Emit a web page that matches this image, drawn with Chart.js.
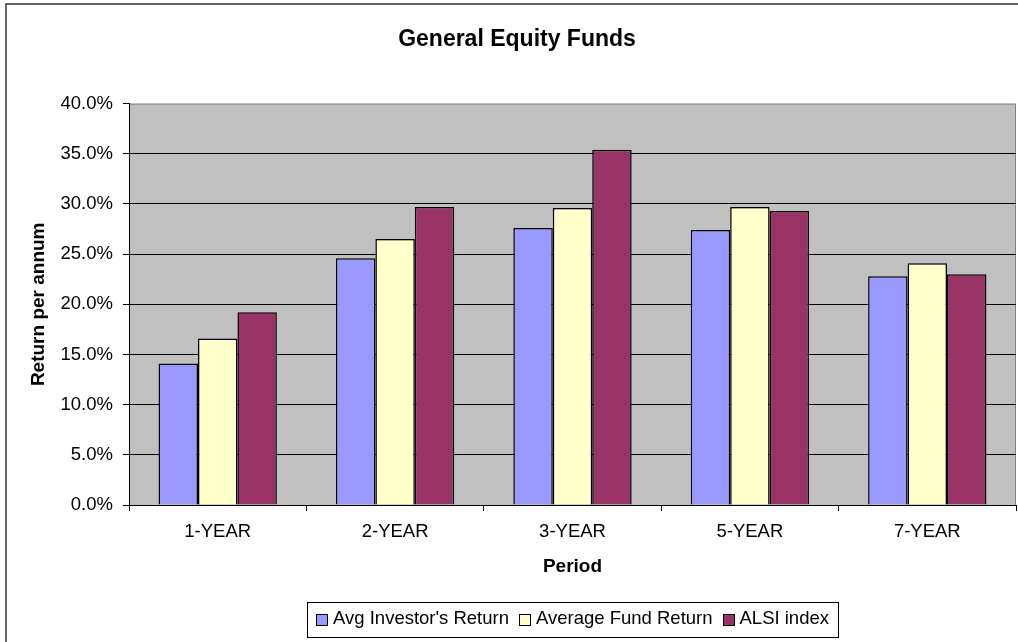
<!DOCTYPE html>
<html>
<head>
<meta charset="utf-8">
<script src="https://cdn.jsdelivr.net/npm/chart.js@4/dist/chart.umd.min.js"></script>
<style>
  html, body { margin:0; padding:0; background:#fff; overflow:hidden; }
</style>
</head>
<body>
<canvas id="chart" width="1018" height="642"></canvas>
<script>
// data (percent per annum)
const PERIODS   = ['1-YEAR', '2-YEAR', '3-YEAR', '5-YEAR', '7-YEAR'];
const INVESTOR  = [14.1, 24.6, 27.6, 27.4, 22.8];
const FUND      = [16.6, 26.5, 29.6, 29.7, 24.1];
const ALSI      = [19.2, 29.7, 35.4, 29.3, 23.0];
const SERIES    = ["Avg Investor's Return", 'Average Fund Return', 'ALSI index'];
const COLORS    = ['#9999FF', '#FFFFCC', '#993366'];

const FONT = "'Liberation Sans', Arial, sans-serif";

// frame + grey plot background, drawn under the grid
const backdrop = {
  id: 'backdrop',
  beforeDraw(chart) {
    const { ctx, chartArea: a } = chart;
    ctx.save();
    ctx.fillStyle = '#fff';
    ctx.fillRect(0, 0, chart.width, chart.height);
    ctx.strokeStyle = '#333';
    ctx.lineWidth = 1.5;
    ctx.strokeRect(6, 4, 1200, 900);      // outer chart border, right/bottom run off the crop
    ctx.fillStyle = '#C0C0C0';
    ctx.fillRect(a.left, a.top, a.right - a.left, a.bottom - a.top);
    ctx.strokeStyle = '#808080';
    ctx.lineWidth = 1;
    ctx.beginPath();
    ctx.moveTo(a.left, a.top + 0.5); ctx.lineTo(a.right - 0.5, a.top + 0.5);
    ctx.lineTo(a.right - 0.5, a.bottom);
    ctx.stroke();
    ctx.restore();
  }
};

// boxed legend centred under the plot area
const boxLegend = {
  id: 'boxLegend',
  afterDraw(chart) {
    const { ctx, chartArea: a } = chart;
    const sw = 11, gapIn = 6, gapOut = 10, padX = 9;
    ctx.save();
    ctx.font = '18.5px ' + FONT;
    const items = chart.data.datasets.map(d => ({ label: d.label, color: d.backgroundColor, w: ctx.measureText(d.label).width }));
    const inner = items.reduce((s, it) => s + sw + gapIn + it.w, 0) + gapOut * (items.length - 1);
    const cx = (a.left + a.right) / 2;
    const top = 602, bottom = 637, cy = 619;
    const left = cx - inner / 2 - padX;
    ctx.fillStyle = '#fff';
    ctx.fillRect(left, top, inner + 2 * padX, bottom - top);
    ctx.strokeStyle = '#000';
    ctx.lineWidth = 1;
    ctx.strokeRect(Math.round(left) + 0.5, top + 0.5, Math.round(inner + 2 * padX), bottom - top);
    let x = cx - inner / 2;
    ctx.textBaseline = 'middle';
    items.forEach(it => {
      ctx.fillStyle = it.color;
      ctx.fillRect(Math.round(x) + 0.5, cy - 4.5, sw, sw);
      ctx.strokeRect(Math.round(x) + 0.5, cy - 4.5, sw, sw);
      x += sw + gapIn;
      ctx.fillStyle = '#000';
      ctx.fillText(it.label, x, cy);
      x += it.w + gapOut;
    });
    ctx.restore();
  }
};

new Chart(document.getElementById('chart').getContext('2d'), {
  type: 'bar',
  data: {
    labels: PERIODS,
    datasets: [INVESTOR, FUND, ALSI].map((d, i) => ({
      label: SERIES[i],
      data: d,
      backgroundColor: COLORS[i],
      borderColor: '#000',
      borderWidth: 1.5,
      categoryPercentage: 0.667,
      barPercentage: 1
    }))
  },
  options: {
    responsive: false,
    animation: false,
    layout: { padding: { left: 18, right: 2, top: 0, bottom: 57 } },
    plugins: {
      legend: { display: false },
      tooltip: { enabled: false },
      title: {
        display: true,
        text: 'General Equity Funds',
        color: '#000',
        font: { family: FONT, size: 23, weight: 'bold' },
        padding: { top: 26, bottom: 50 }
      }
    },
    scales: {
      x: {
        afterFit: s => { s.height = 80; },
        grid: { display: true, drawOnChartArea: false, offset: true, tickLength: 6, color: '#000', tickColor: '#000' },
        border: { color: '#000', width: 1 },
        ticks: { color: '#000', padding: 10, font: { family: FONT, size: 18.5 } },
        title: { display: true, text: 'Period', color: '#000', padding: { top: 0, bottom: 7 },
                 font: { family: FONT, size: 19, weight: 'bold' } }
      },
      y: {
        min: 0, max: 40,
        afterFit: s => { s.width = 111; },
        grid: { color: c => c.tick && c.tick.value === 40 ? 'rgba(0,0,0,0)' : '#000', tickLength: 6, tickColor: '#000' },
        border: { color: '#000', width: 1 },
        ticks: { stepSize: 5, color: '#000', padding: 10, font: { family: FONT, size: 18.5 },
                 callback: v => v.toFixed(1) + '%' },
        title: { display: true, text: 'Return per annum', color: '#000', padding: { top: 9, bottom: 0 },
                 font: { family: FONT, size: 19, weight: 'bold' } }
      }
    }
  },
  plugins: [backdrop, boxLegend]
});
</script>
</body>
</html>
